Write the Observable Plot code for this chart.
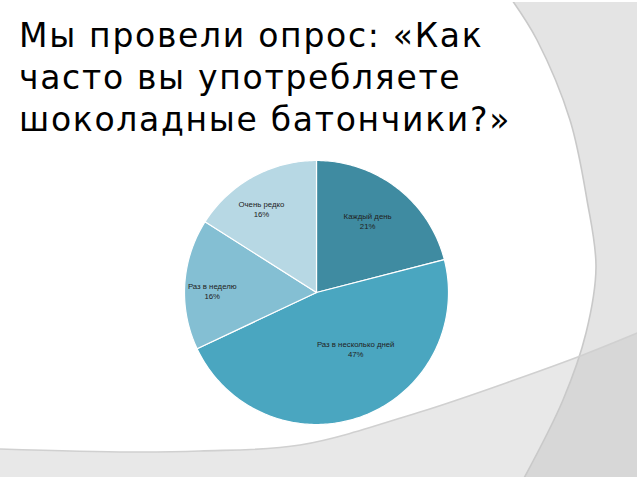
<!DOCTYPE html>
<html><head><meta charset="utf-8">
<script src="https://cdn.jsdelivr.net/npm/d3@7"></script>
<script src="https://cdn.jsdelivr.net/npm/@observablehq/plot@0.6"></script>
<style>
body{margin:0;background:#fff;}
#slide{position:relative;width:640px;height:480px;overflow:hidden;background:#fff;}
#bg{position:absolute;left:0;top:0;}
#title{position:absolute;left:19px;top:15px;font-family:"DejaVu Sans",sans-serif;font-size:33px;letter-spacing:1.7px;line-height:42px;color:#000;white-space:nowrap;}
#chart{position:absolute;left:166px;top:142px;}
</style>
</head><body>
<div id="slide">
<svg id="bg" width="640" height="480"></svg>
<div id="title">Мы провели опрос: «Как<br>часто вы употребляете<br>шоколадные батончики?»</div>
<div id="chart"></div>
</div>
<script>
// ---- data ----
const categories = ["Каждый день", "Раз в несколько дней", "Раз в неделю", "Очень редко"];
const values = [21, 47, 16, 16];
const colors = ["#3f8ba1", "#4aa6c0", "#84bfd3", "#b7d8e4"];

// ---- label placement (fraction of radius, angular shift in degrees) ----
const labelRadius = [0.67, 0.52, 0.79, 0.76];
const labelTurn = [-2.5, -15, -2.6, -4.5];

// ---- decorative slide background ----
const bg = d3.select("#bg");
const defs = bg.append("defs");
defs.append("clipPath").attr("id", "slideClip").append("rect")
  .attr("x", 0).attr("y", 2).attr("width", 637).attr("height", 475);
const arcPts = [[512,0],[537,40],[570,120],[587,200],[596,267],[586,333],[563,400],[523,480]];
const lowPts = [[0,449],[130,452],[200,451],[300,445],[420,412],[520,378],[583,355],[640,332]];
const lineGen = d3.line().curve(d3.curveCatmullRom);
const rightPath = lineGen(arcPts) + "L660,480L660,-10L512,-10Z";
const lowPath = lineGen(lowPts) + "L660,332L660,500L0,500Z";
defs.append("clipPath").attr("id", "rightClip").append("path").attr("d", rightPath);
const g = bg.append("g").attr("clip-path", "url(#slideClip)");
g.append("path").attr("d", rightPath).attr("fill", "#e4e4e4");
g.append("path").attr("d", lowPath).attr("fill", "#e8e8e8");
g.append("path").attr("d", lowPath).attr("fill", "#d7d7d7").attr("clip-path", "url(#rightClip)");
g.append("path").attr("d", lineGen(arcPts)).attr("fill", "none").attr("stroke", "#c9c9c9").attr("stroke-width", 1.6);
g.append("path").attr("d", lineGen(lowPts)).attr("fill", "none").attr("stroke", "#d0d0d0").attr("stroke-width", 1.6);

// ---- pie geometry derived from values ----
const total = d3.sum(values);
const arcs = d3.pie().sort(null).value(d => d)(values);
const polys = [];
arcs.forEach((a, i) => {
  polys.push({cat: categories[i], x: 0, y: 0});
  const n = Math.max(2, Math.ceil((a.endAngle - a.startAngle) * 180 / Math.PI));
  for (let k = 0; k <= n; k++) {
    const t = a.startAngle + (a.endAngle - a.startAngle) * k / n;
    polys.push({cat: categories[i], x: Math.sin(t), y: Math.cos(t)});
  }
  polys.push({cat: categories[i], x: 0, y: 0});
});
const labels = arcs.map((a, i) => {
  const t = (a.startAngle + a.endAngle) / 2 + labelTurn[i] * Math.PI / 180;
  return {
    cat: categories[i],
    text: categories[i] + "\n" + Math.round(values[i] / total * 100) + "%",
    x: labelRadius[i] * Math.sin(t),
    y: labelRadius[i] * Math.cos(t)
  };
});

const D = 150 / 132;
const chart = Plot.plot({
  width: 300, height: 300,
  margin: 0,
  x: {domain: [-D, D], axis: null},
  y: {domain: [-D, D], axis: null},
  color: {domain: categories, range: colors},
  style: {background: "transparent", overflow: "visible"},
  marks: [
    Plot.line(polys, {x: "x", y: "y", z: "cat", fill: "cat", stroke: "#ffffff", strokeWidth: 1.2, strokeLinejoin: "round", curve: "linear"}),
    Plot.text(labels, {x: "x", y: "y", text: "text", fontSize: 7.8, fill: "#222", lineHeight: 1.3, fontFamily: "Liberation Sans, Arial, sans-serif"})
  ]
});
document.getElementById("chart").appendChild(chart);
</script>
</body></html>
